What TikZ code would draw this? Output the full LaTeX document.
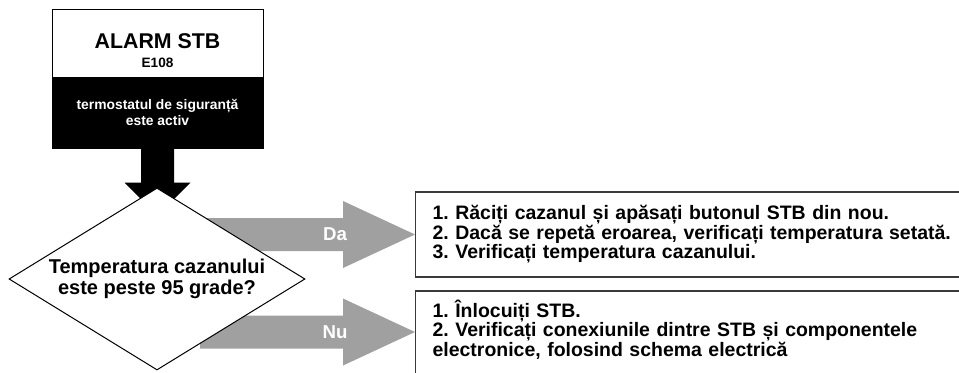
\documentclass[tikz,border=0pt]{standalone}
\usepackage{fontspec}
\setmainfont{Liberation Sans}
\usetikzlibrary{shapes.geometric,backgrounds,calc}
\definecolor{ArrowGray}{HTML}{A0A0A0}
\definecolor{FrameGray}{HTML}{3A3A3A}
\frenchspacing

\begin{document}
\begin{tikzpicture}[x=0.75pt,y=-0.75pt,
headbox/.style={draw=black,line width=0.75pt,fill=white,minimum width=158.25pt,minimum height=51pt,inner sep=0pt},
headtxt/.style={inner sep=0pt,font=\bfseries},
causebox/.style={draw=black,line width=0.75pt,fill=black,text=white,minimum width=158.25pt,minimum height=53.25pt,align=center,font=\fontsize{10.4}{11.6}\selectfont\bfseries},
decision/.style={diamond,aspect=1.63,draw=black,line width=0.75pt,fill=white,minimum width=222pt,minimum height=136.5pt,inner sep=0pt,align=center,font=\fontsize{15}{16}\selectfont\bfseries},
todo/.style={draw=FrameGray,line width=0.9pt,fill=white,anchor=west,minimum width=420pt,text width=394.5pt,inner xsep=12.75pt,inner ysep=0pt,align=left,font=\fontsize{14.6}{14.6}\selectfont\bfseries},
tag/.style={text=white,inner sep=0pt,font=\fontsize{14}{14}\selectfont\bfseries},
garr/.style={fill=ArrowGray},
barr/.style={fill=black}
]
\useasboundingbox (0,0) rectangle (959,372);
\clip (0,0) rectangle (959,372);
\node[headbox] (alarm) at (157.5,43) {};
\node[headtxt,font=\fontsize{16}{16}\selectfont\bfseries] (title) at (157.5,41) {ALARM STB};
\node[headtxt,font=\fontsize{10.2}{11}\selectfont\bfseries] (code) at (157.5,62.5) {E108};
\node[causebox] (cause) at (157.5,112.5) {termostatul de siguranță\\este activ};
\node[decision] (q) at (157,279) {Temperatura cazanului\\este peste 95 grade?};
\node[todo,minimum height=63.75pt] (yes) at (415,234.5) {1. Răciți cazanul și apăsați butonul STB din nou.\\2. Dacă se repetă eroarea, verificați temperatura setată.\\3. Verificați temperatura cazanului.};
\node[todo,minimum height=67.5pt] (no) at (415,336) {1. Înlocuiți STB.\\2. Verificați conexiunile dintre STB și componentele\\electronice, folosind schema electrică\rule[-12pt]{0pt}{0pt}};
\node[tag] (da) at (335,234) {Da};
\node[tag] (nu) at (335,332) {Nu};
\begin{scope}[on background layer]
\fill[barr] (cause.south) ++(-16.5,-2) -- ++(0,36) -- ++(-16.5,0) -- ++(33,33) -- ++(33,-33) -- ++(-16.5,0) -- ++(0,-36) -- cycle;
\fill[garr] (yes.west) -- ++(-72,-33.5) -- ++(0,17) -- ++(-143,0) -- ++(0,33) -- ++(143,0) -- ++(0,17) -- cycle;
\fill[garr] ([yshift=3pt]no.west) -- ++(-72,-33.5) -- ++(0,17) -- ++(-143,0) -- ++(0,33) -- ++(143,0) -- ++(0,17) -- cycle;
\end{scope}
\end{tikzpicture}
\end{document}
